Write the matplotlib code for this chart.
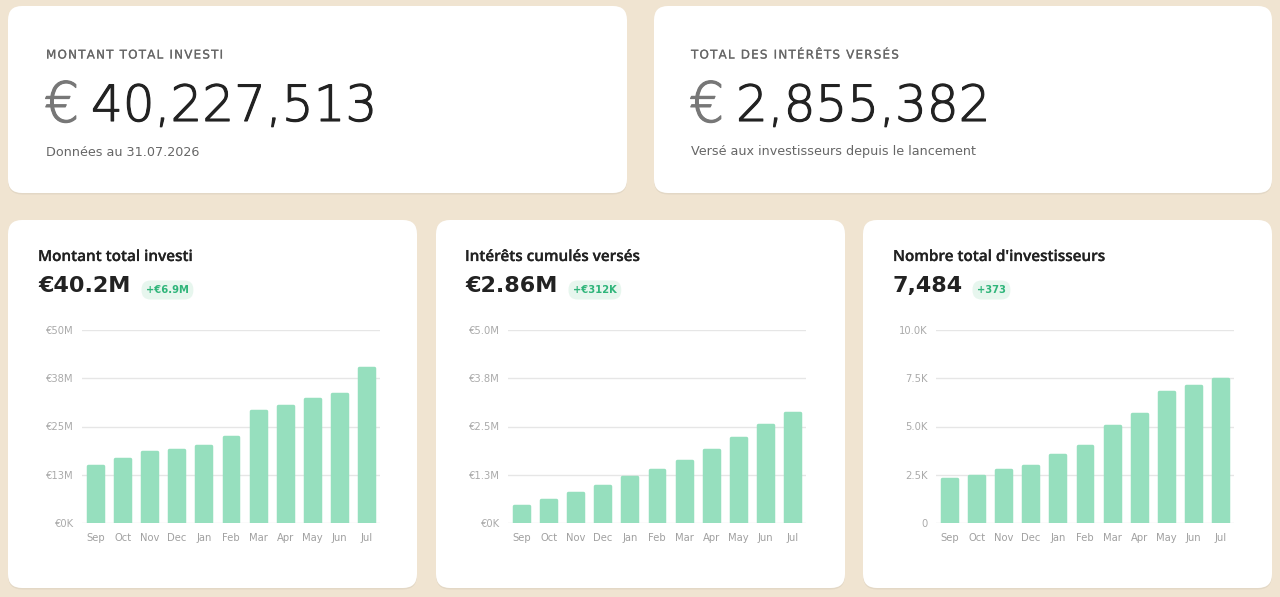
import matplotlib.pyplot as plt
import matplotlib.patheffects as pe
from matplotlib.patches import FancyBboxPatch

# data
months = ["Sep", "Oct", "Nov", "Dec", "Jan", "Feb", "Mar", "Apr", "May", "Jun", "Jul"]
invested_m = [14.7, 16.5, 18.3, 19.0, 20.0, 22.3, 29.0, 30.3, 32.1, 33.3, 40.2]
interest_m = [0.43, 0.60, 0.78, 0.97, 1.18, 1.38, 1.61, 1.90, 2.21, 2.55, 2.86]
investors = [2276, 2448, 2759, 2966, 3534, 3966, 5017, 5672, 6776, 7111, 7484]

inv_ticks = [0, 12.5, 25, 37.5, 50]
inv_labels = ["€0K", "€13M", "€25M", "€38M", "€50M"]
int_ticks = [0, 1.25, 2.5, 3.75, 5.0]
int_labels = ["€0K", "€1.3M", "€2.5M", "€3.8M", "€5.0M"]
cnt_ticks = [0, 2500, 5000, 7500, 10000]
cnt_labels = ["0", "2.5K", "5.0K", "7.5K", "10.0K"]

BG = "#F0E4D1"
BAR = "#96DFBE"
DARK = "#222222"
GREY = "#666666"

W, H = 1280, 597
plt.rcParams["font.family"] = ["DejaVu Sans"]
fig = plt.figure(figsize=(W / 100, H / 100), dpi=100)
fig.patch.set_facecolor(BG)

# background axes in pixel coords
bg = fig.add_axes([0, 0, 1, 1])
bg.set_xlim(0, W)
bg.set_ylim(H, 0)
bg.axis("off")


def card(x0, y0, x1, y1):
    sh = FancyBboxPatch((x0, y0 + 1.5), x1 - x0, y1 - y0, boxstyle="round,pad=0,rounding_size=14",
                        fc="#000000", ec="none", alpha=0.05)
    bg.add_patch(sh)
    p = FancyBboxPatch((x0, y0), x1 - x0, y1 - y0, boxstyle="round,pad=0,rounding_size=14",
                       fc="white", ec="none")
    bg.add_patch(p)


def spaced(s):
    return "\u200a".join(s)


def stroke(c, w):
    return [pe.withStroke(linewidth=w, foreground=c)]


card(8, 6, 627, 193)
card(654, 6, 1272, 193)
card(8, 220, 417, 588)
card(436, 220, 845, 588)
card(863, 220, 1272, 588)

# top cards
for x, lab, num, sub in [(46, "MONTANT TOTAL INVESTI", "40,227,513", "Données au 31.07.2026"),
                         (691, "TOTAL DES INTÉRÊTS VERSÉS", "2,855,382",
                          "Versé aux investisseurs depuis le lancement")]:
    bg.text(x, 55, spaced(lab), fontsize=8.6, color="#666666", va="center",
            path_effects=stroke("#666666", 0.15))
    bg.text(x - 2, 107, "€", fontsize=40, color="#777777", va="center", fontweight="light",
            path_effects=stroke("#777777", 0.8))
    bg.text(x + 45, 107, num, fontsize=36, color=DARK, va="center", fontweight="light",
            path_effects=stroke(DARK, 0.8))
    bg.text(x, 152, sub, fontsize=9.2, color=GREY, va="center")

# bottom cards: title, value, badge
heads = [(38, "Montant total investi", "€40.2M", 146, "+€6.9M"),
         (465, "Intérêts cumulés versés", "€2.86M", 573, "+€312K"),
         (893, "Nombre total d'investisseurs", "7,484", 977, "+373")]
for x, title, val, bx, badge in heads:
    bg.text(x, 257, title, fontsize=11, color=DARK, fontweight="semibold", va="center",
            family="Open Sans", path_effects=stroke(DARK, 0.15))
    bg.text(x, 286, val, fontsize=16, color=DARK, fontweight="semibold", va="center")
    bg.text(bx, 290, badge, fontsize=7.2, color="#2FB57A", fontweight="bold", va="center",
            bbox=dict(boxstyle="round,pad=0.45,rounding_size=0.9", fc="#E7F6EE", ec="none"))

charts = [(82, invested_m, inv_ticks, inv_labels),
          (508, interest_m, int_ticks, int_labels),
          (936, investors, cnt_ticks, cnt_labels)]
for left, vals, ticks, labels in charts:
    ax = fig.add_axes([left / W, (H - 523) / H, 298 / W, 193 / H])
    ax.set_facecolor("none")
    ax.bar(range(len(months)), vals, width=0.55, color=BAR, edgecolor=BAR,
           linewidth=2.5, joinstyle="round", zorder=3)
    ax.set_xlim(-0.5, len(months) - 0.5)
    ax.set_ylim(0, ticks[-1])
    ax.set_yticks(ticks)
    ax.set_yticklabels(labels)
    ax.set_xticks(range(len(months)))
    ax.set_xticklabels(months)
    ax.grid(axis="y", color="#E6E6E6", linewidth=1, zorder=0)
    ax.tick_params(axis="y", length=0, pad=6, labelsize=7.2, labelcolor="#AAAAAA")
    ax.tick_params(axis="x", length=0, pad=7, labelsize=7.2, labelcolor="#A0A0A0")
    for s in ax.spines.values():
        s.set_visible(False)

fig.savefig("out.png", dpi=100, facecolor=BG)
